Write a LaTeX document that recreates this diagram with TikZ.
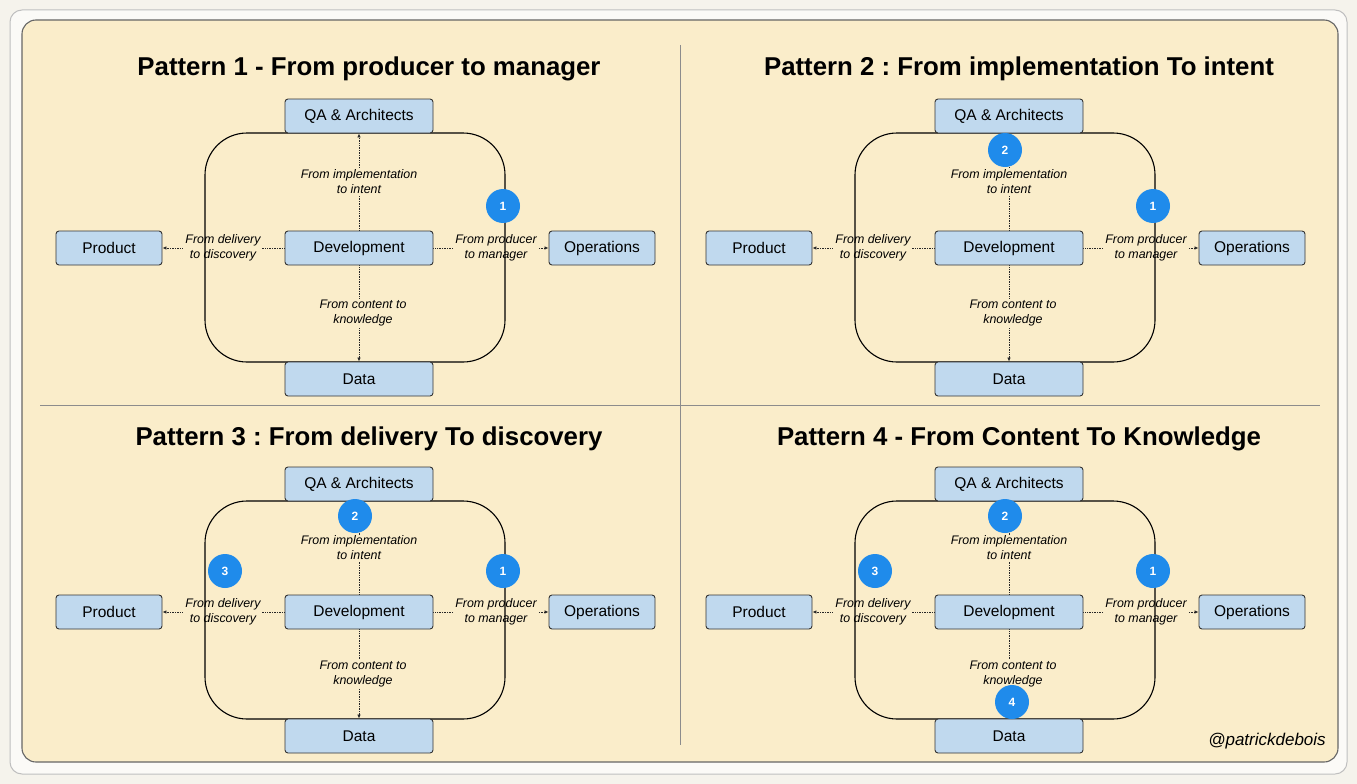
\documentclass[tikz,border=0pt]{standalone}
\usepackage{fontspec}
\setmainfont{Liberation Sans}
\usetikzlibrary{arrows.meta,calc}
\frenchspacing

\definecolor{pagebg}{HTML}{F5F3EC}
\definecolor{panelbg}{HTML}{FAEDCA}
\definecolor{boxfill}{HTML}{C0D9EE}
\definecolor{badgeblue}{HTML}{1F8BEB}

\pgfdeclarelayer{back}
\pgfdeclarelayer{mid}
\pgfsetlayers{back,mid,main}

% one quadrant: prefix, x of the centre column, y of QA, Development, Data
\newcommand{\drawquad}[5]{%
  \node[box] (#1qa) at (#2,#3) {QA \& Architects};
  \node[box] (#1dev) at (#2,#4) {Development};
  \node[box] (#1data) at (#2,#5) {Data};
  \node[box, minimum width=106pt] (#1prod) at (#2-250,#4) {Product};
  \node[box, minimum width=106pt] (#1ops) at (#2+243,#4) {Operations};
  \begin{pgfonlayer}{mid}
    \draw[flow] (#1dev) -- (#1qa);
    \draw[flow] (#1dev) -- (#1data);
    \draw[flow] (#1dev) -- (#1prod);
    \draw[flow] (#1dev) -- (#1ops);
    \node[note] (#1impl) at ($(#1qa)!0.5!(#1dev)$) {From implementation\\to intent};
    \node[note] (#1cont) at ($(#1dev)!0.5!(#1data)+(4,0)$) {From content to\\knowledge};
    \node[note] (#1deliv) at (#2-136,#4) {From delivery\\to discovery};
    \node[note] (#1prodr) at (#2+137,#4) {From producer\\to manager};
    \draw[loopbox] (#2-154,#3+17) rectangle (#2+146,#5-17);
  \end{pgfonlayer}}

\begin{document}
\begin{tikzpicture}[x=1pt, y=-1pt,
    box/.style={draw=black!80, fill=boxfill, rounded corners=3pt, line width=0.9pt,
                minimum width=148pt, minimum height=34pt, inner sep=0pt,
                font=\fontsize{15.5}{18}\selectfont},
    note/.style={fill=panelbg, inner sep=1pt, align=center,
                 font=\fontsize{12.4}{15}\selectfont\itshape},
    flow/.style={densely dotted, line width=0.7pt, draw=black!85,
                 -{Latex[length=4pt,width=3.5pt]}},
    loopbox/.style={draw=black, line width=1.1pt, rounded corners=42pt},
    badge/.style={circle, fill=badgeblue, minimum size=34pt, inner sep=0pt,
                  text=white, font=\fontsize{12}{14}\selectfont\bfseries},
    heading/.style={anchor=base, font=\fontsize{25.8}{30}\selectfont\bfseries}]
    \useasboundingbox (0,0) rectangle (1357,784);
    \begin{pgfonlayer}{back}
        \fill[pagebg] (0,0) rectangle (1357,784);
        \draw[draw=black!25, fill=white!60!pagebg, line width=1pt, rounded corners=12pt]
            (10,10) rectangle (1347,774);
        \draw[draw=black!60, fill=panelbg, line width=1.1pt, rounded corners=14pt]
            (22,20) rectangle (1338,762);
        \draw[black!45, line width=1pt] (680,45) -- (680,745);
        \draw[black!45, line width=1pt] (40,405) -- (1320,405);
    \end{pgfonlayer}

    \node[heading] (t1) at (369,75) {Pattern 1 - From producer to manager};
    \node[heading] (t2) at (1019,75) {Pattern 2 : From implementation To intent};
    \node[heading] (t3) at (369,445) {Pattern 3 : From delivery To discovery};
    \node[heading] (t4) at (1019,445) {Pattern 4 - From Content To Knowledge};

    \drawquad{p1}{359}{116}{248}{379}
    \drawquad{p2}{1009}{116}{248}{379}
    \drawquad{p3}{359}{484}{612}{736}
    \drawquad{p4}{1009}{484}{612}{736}

    \node[badge] (p1one) at (503,206) {1};
    \node[badge] (p2one) at (1153,206) {1};
    \node[badge] (p2two) at (1005,150) {2};
    \node[badge] (p3one) at (503,571) {1};
    \node[badge] (p3two) at (355,516) {2};
    \node[badge] (p3three) at (225,571) {3};
    \node[badge] (p4one) at (1153,571) {1};
    \node[badge] (p4two) at (1005,516) {2};
    \node[badge] (p4three) at (875,571) {3};
    \node[badge] (p4four) at (1012,702) {4};

    \node[font=\fontsize{17}{20}\selectfont\itshape] (sign) at (1267,741) {@patrickdebois};
\end{tikzpicture}
\end{document}
